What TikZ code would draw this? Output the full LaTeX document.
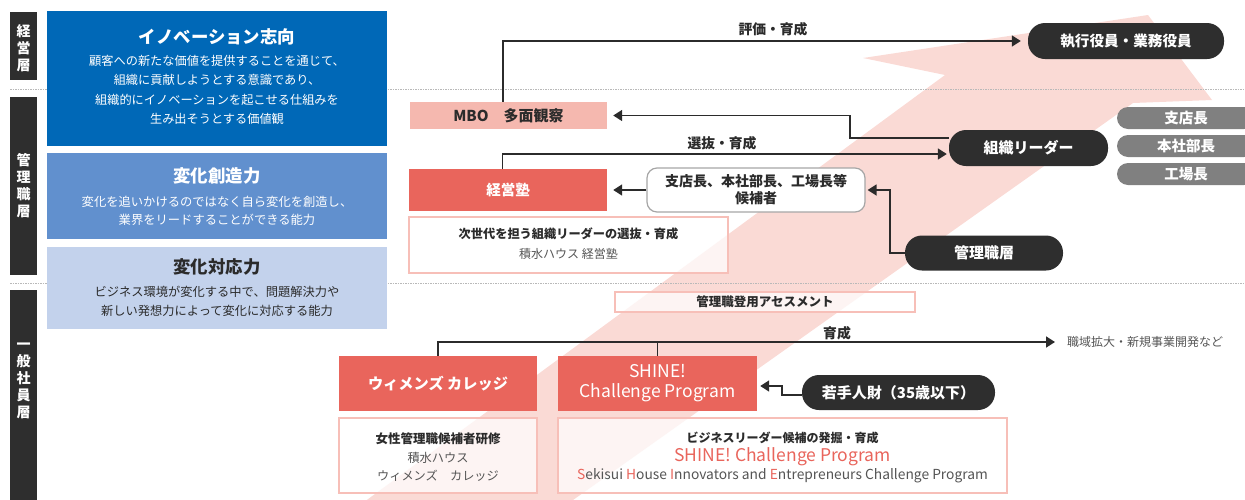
\documentclass[tikz,border=0pt]{standalone}
\usepackage{fontspec}
\setmainfont{Noto Sans CJK JP}
\usetikzlibrary{arrows.meta}
\definecolor{blueA}{HTML}{0068B7}
\definecolor{blueB}{HTML}{6190CE}
\definecolor{blueC}{HTML}{C3D2EC}
\definecolor{darkbar}{HTML}{2E2E2E}
\definecolor{redbox}{HTML}{E9655C}
\definecolor{pinkbox}{HTML}{F5B8AF}
\definecolor{pinkline}{HTML}{F7BFB8}
\definecolor{bgarrow}{HTML}{FADAD5}
\definecolor{greypill}{HTML}{808080}
\definecolor{txt}{HTML}{2B2B2B}
\definecolor{txtgrey}{HTML}{555555}
\newcommand{\fsz}[2]{\fontsize{#1}{#2}\selectfont}
\tikzset{
  nw/.style={anchor=north west, inner sep=0pt, outer sep=0pt},
  lbar/.style={nw, fill=darkbar, minimum width=27pt},
  bartext/.style={text=white, font=\bfseries\fsz{14}{17}, align=center, inner sep=0pt},
  bluebox/.style={nw, minimum width=340pt},
  btitle/.style={font=\bfseries\fsz{17.4}{19}, inner sep=0pt},
  bbody/.style={align=center, inner sep=0pt},
  pill/.style={fill=darkbar, text=white, rounded corners=17pt, inner sep=0pt, font=\bfseries\fsz{14.6}{16}},
  gpill/.style={fill=greypill, text=white, rounded corners=11pt, inner sep=0pt, font=\bfseries\fsz{14.5}{16}, minimum width=138pt, minimum height=22pt},
  redrect/.style={fill=redbox, text=white, inner sep=0pt, font=\bfseries\fsz{14.5}{16}},
  wbox/.style={fill=white, fill opacity=0.72, text opacity=1, draw=pinkline, line width=1.2pt, inner sep=0pt},
  conn/.style={draw=txt, line width=1.7pt, -{Triangle[length=9pt,width=11pt]}},
  plain/.style={draw=txt, line width=1.7pt},
  lbl/.style={text=txt, font=\bfseries\fsz{13.8}{15}, inner sep=0pt},
  dotline/.style={draw=gray!55, line width=1pt, dash pattern=on 1.5pt off 1pt},
}
\begin{document}
\begin{tikzpicture}[x=1pt,y=-1pt]
\useasboundingbox (0,0) rectangle (1245,499);
% background pink arrow
\fill[bgarrow] (360,505) -- (945,75) -- (863,58) -- (1148,15) -- (1212,100) -- (1133,103) -- (566,505) -- cycle;
% dotted layer lines
\coordinate (d1a) at (10,89); \coordinate (d1b) at (1245,89);
\coordinate (d2a) at (10,283); \coordinate (d2b) at (1245,283);
\draw[dotline] (d1a) -- (d1b);
\draw[dotline] (d2a) -- (d2b);
% left layer bars
\node[lbar, minimum height=68pt] (barA) at (10,12) {};
\node[bartext] (barAt) at (23.5,48) {経\\営\\層};
\node[lbar, minimum height=178pt] (barB) at (10,97) {};
\node[bartext] (barBt) at (23.5,186) {管\\理\\職\\層};
\node[lbar, minimum height=215pt] (barC) at (10,290) {};
\node[bartext] (barCt) at (23.5,381) {一\\般\\社\\員\\層};
% blue boxes
\node[bluebox, fill=blueA, minimum height=135pt] (innov) at (47,11) {};
\node[btitle, text=white] (innovT) at (217,37) {イノベーション志向};
\node[bbody, text=white, font=\fsz{12.2}{19.3}] (innovB) at (217,90) {顧客への新たな価値を提供することを通じて、\\組織に貢献しようとする意識であり、\\組織的にイノベーションを起こせる仕組みを\\生み出そうとする価値観};
\node[bluebox, fill=blueB, minimum height=86pt] (create) at (47,153) {};
\node[btitle, text=white] (createT) at (217,176) {変化創造力};
\node[bbody, text=white, font=\fsz{12.3}{18}] (createB) at (217,211) {変化を追いかけるのではなく自ら変化を創造し、\\業界をリードすることができる能力};
\node[bluebox, fill=blueC, minimum height=82pt] (adapt) at (47,247) {};
\node[btitle, text=txt] (adaptT) at (217,267) {変化対応力};
\node[bbody, text=txt, font=\fsz{12.25}{19}] (adaptB) at (217,301.5) {ビジネス環境が変化する中で、問題解決力や\\新しい発想力によって変化に対応する能力};
% right side nodes
\node[pill, minimum width=196pt, minimum height=36pt] (exec) at (1126,41) {執行役員・業務役員};
\node[fill=pinkbox, text=txt, inner sep=0pt, minimum width=197pt, minimum height=27pt, font=\bfseries\fsz{15}{17}] (mbo) at (508.5,115.5) {MBO　多面観察};
\node[pill, minimum width=159pt, minimum height=36pt, font=\bfseries\fsz{15}{17}] (leader) at (1028.5,148) {組織リーダー};
\begin{scope}
\clip (0,0) rectangle (1245,499);
\node[gpill] (shiten) at (1186,118) {支店長};
\node[gpill] (honsha) at (1186,146) {本社部長};
\node[gpill] (kojo) at (1186,174) {工場長};
\end{scope}
\node[fill=white, draw=gray!70, line width=1.2pt, rounded corners=10pt, minimum width=218pt, minimum height=44pt, inner sep=0pt, align=center, text=txt, font=\bfseries\fsz{14}{17}] (cand) at (756,190) {支店長、本社部長、工場長等\\候補者};
\node[redrect, minimum width=198pt, minimum height=42pt] (keiei) at (508,190) {経営塾};
\node[wbox, minimum width=319pt, minimum height=56pt] (nextgen) at (568.5,245) {};
\node[text=txt, font=\bfseries\fsz{12.2}{14}, inner sep=0pt] (nextgen1) at (568.5,234) {次世代を担う組織リーダーの選抜・育成};
\node[text=txtgrey, font=\fsz{12}{14}, inner sep=0pt] (nextgen2) at (568.5,254) {積水ハウス 経営塾};
\node[pill, minimum width=158pt, minimum height=35pt, font=\bfseries\fsz{15}{17}] (kanri) at (984,253) {管理職層};
\node[wbox, minimum width=300pt, minimum height=20pt, text=txt, font=\bfseries\fsz{12.5}{14}] (assess) at (765,302) {管理職登用アセスメント};
\node[redrect, minimum width=198pt, minimum height=55pt, font=\bfseries\fsz{15.2}{17}] (women) at (438,383.5) {ウィメンズ カレッジ};
\node[redrect, minimum width=199pt, minimum height=55pt, align=center, font=\fsz{17.5}{20}] (shine) at (657.5,383.5) {SHINE!\\Challenge Program};
\node[pill, minimum width=193pt, minimum height=35pt, font=\bfseries\fsz{15}{17}] (young) at (898.5,392.5) {若手人財（35歳以下）};
\node[wbox, minimum width=198pt, minimum height=75pt] (womenL) at (438,455.5) {};
\node[text=txt, font=\bfseries\fsz{12.5}{14}, inner sep=0pt] (womenL1) at (438,439) {女性管理職候補者研修};
\node[text=txtgrey, font=\fsz{12.2}{14}, inner sep=0pt] (womenL2) at (438,458) {積水ハウス};
\node[text=txtgrey, font=\fsz{12.2}{14}, inner sep=0pt] (womenL3) at (438,476) {ウィメンズ　カレッジ};
\node[wbox, minimum width=449pt, minimum height=75pt] (shineL) at (782.5,455.5) {};
\node[text=txt, font=\bfseries\fsz{12}{14}, inner sep=0pt] (shineL1) at (782.5,438) {ビジネスリーダー候補の発掘・育成};
\node[text=redbox, font=\fsz{17.5}{19}, inner sep=0pt] (shineL2) at (782.5,457) {SHINE! Challenge Program};
\node[text=txtgrey, font=\fsz{13.8}{15}, inner sep=0pt] (shineL3) at (782.5,476) {{\color{redbox}S}ekisui {\color{redbox}H}ouse {\color{redbox}I}nnovators and {\color{redbox}E}ntrepreneurs Challenge Program};
\node[anchor=west, text=txtgrey, font=\fsz{12}{14}, inner sep=0pt] (other) at (1067,342) {職域拡大・新規事業開発など};
% connectors
\draw[conn, shorten >=7pt] ([xshift=-5.5pt]mbo.north) |- (exec.west);
\node[lbl] (l1) at (773,29) {評価・育成};
\draw[conn, shorten >=6pt] ([yshift=10pt]leader.west) -- ++(-99,0) |- (mbo.east);
\draw[conn, shorten >=2pt] ([xshift=-5.5pt]keiei.north) |- ([yshift=-6pt]leader.west);
\node[lbl] (l2) at (722,143) {選抜・育成};
\draw[conn, shorten >=6pt] (cand.west) -- (keiei.east);
\draw[conn, shorten >=2pt] (kanri.west) -- ++(-15,0) |- (cand.east);
\draw[conn, shorten >=12pt] (women.north) |- (other.west);
\draw[plain] (shine.north) -- ++(0,-14);
\node[lbl] (l3) at (837,333) {育成};
\draw[conn, shorten >=3pt] ([yshift=-2.5pt]young.west) -- ++(-20,0) |- ([yshift=-2.5pt]shine.east);
\end{tikzpicture}
\end{document}
